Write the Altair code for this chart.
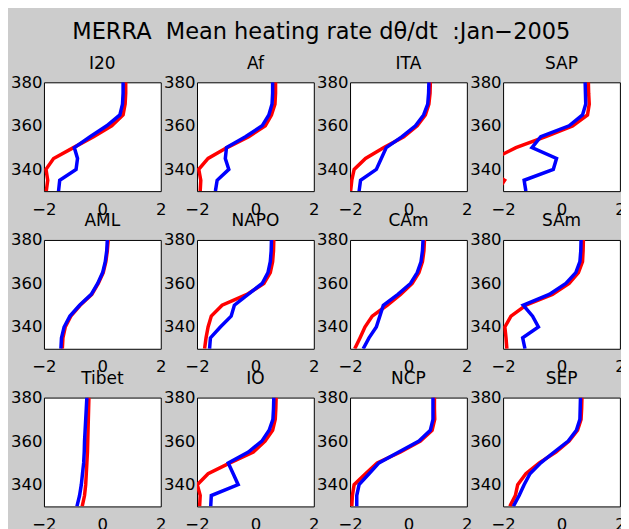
import altair as alt
import pandas as pd

theta = [330, 335, 340, 345, 350, 355, 360, 365, 370, 375, 380]
regions = ["I20", "Af", "ITA", "SAP", "AML", "NAPO", "CAm", "SAm",
           "Tibet", "IO", "NCP", "SEP"]

red = {
    "I20":   [-1.92, -1.87, -1.93, -1.67, -0.99, -0.30, 0.32, 0.71, 0.78, 0.80, 0.80],
    "Af":    [-1.89, -1.87, -1.94, -1.62, -0.97, -0.23, 0.34, 0.55, 0.67, 0.69, 0.69],
    "ITA":   [-1.98, -1.94, -1.86, -1.47, -0.84, -0.16, 0.30, 0.58, 0.70, 0.74, 0.75],
    "SAP":   [-2.20, -1.95, -2.60, -2.30, -1.56, -0.54, 0.38, 0.89, 0.95, 0.93, 0.92],
    "AML":   [-1.37, -1.35, -1.27, -1.08, -0.76, -0.36, -0.14, 0.03, 0.12, 0.17, 0.20],
    "NAPO":  [-1.74, -1.69, -1.62, -1.51, -1.14, -0.29, 0.29, 0.51, 0.59, 0.62, 0.63],
    "CAm":   [-1.84, -1.66, -1.49, -1.24, -0.73, -0.27, 0.13, 0.36, 0.48, 0.53, 0.55],
    "SAm":   [-1.87, -1.90, -1.94, -1.73, -1.22, -0.31, 0.26, 0.58, 0.72, 0.74, 0.75],
    "Tibet": [-0.69, -0.61, -0.57, -0.55, -0.53, -0.51, -0.50, -0.49, -0.48, -0.47, -0.46],
    "IO":    [-1.91, -1.89, -1.99, -1.62, -0.87, -0.07, 0.33, 0.59, 0.68, 0.70, 0.71],
    "NCP":   [-1.94, -1.92, -1.86, -1.47, -1.07, -0.27, 0.41, 0.81, 0.90, 0.89, 0.89],
    "SEP":   [-1.77, -1.58, -1.50, -1.22, -0.76, -0.19, 0.26, 0.55, 0.67, 0.69, 0.70],
}
blue = {
    "I20":   [-1.50, -1.46, -0.90, -0.85, -0.96, -0.42, 0.15, 0.60, 0.69, 0.71, 0.71],
    "Af":    [-1.37, -1.31, -0.91, -1.03, -0.99, -0.34, 0.23, 0.46, 0.57, 0.59, 0.59],
    "ITA":   [-1.69, -1.64, -1.10, -0.93, -0.76, -0.22, 0.24, 0.52, 0.66, 0.69, 0.70],
    "SAP":   [-1.22, -1.28, -0.28, -0.17, -1.01, -0.71, 0.26, 0.72, 0.83, 0.82, 0.81],
    "AML":   [-1.42, -1.40, -1.31, -1.11, -0.78, -0.38, -0.16, 0.01, 0.10, 0.15, 0.17],
    "NAPO":  [-1.57, -1.54, -1.20, -0.83, -0.72, -0.25, 0.23, 0.43, 0.51, 0.54, 0.55],
    "CAm":   [-1.55, -1.35, -1.10, -0.98, -0.86, -0.36, 0.07, 0.30, 0.43, 0.48, 0.50],
    "SAm":   [-1.25, -1.33, -0.79, -0.99, -1.31, -0.42, 0.15, 0.49, 0.63, 0.66, 0.67],
    "Tibet": [-0.87, -0.78, -0.72, -0.68, -0.64, -0.62, -0.61, -0.59, -0.57, -0.55, -0.53],
    "IO":    [-1.53, -1.51, -0.59, -0.76, -0.93, -0.24, 0.22, 0.47, 0.60, 0.62, 0.63],
    "NCP":   [-1.77, -1.77, -1.69, -1.35, -1.01, -0.33, 0.36, 0.75, 0.84, 0.84, 0.84],
    "SEP":   [-1.65, -1.45, -1.28, -1.08, -0.71, -0.25, 0.23, 0.51, 0.63, 0.64, 0.65],
}

x_ticks = [-2, 0, 2]
y_ticks = [340, 360, 380]
FONT = "DejaVu Sans"


def panel(name):
    df_r = pd.DataFrame({"theta": theta, "value": red[name]})
    df_b = pd.DataFrame({"theta": theta, "value": blue[name]})
    x = alt.X("value:Q", scale=alt.Scale(domain=[-2, 2], nice=False, zero=False),
              axis=alt.Axis(values=x_ticks, title=None))
    y = alt.Y("theta:Q", scale=alt.Scale(domain=[330, 380], nice=False, zero=False),
              axis=alt.Axis(values=y_ticks, title=None))
    l_r = alt.Chart(df_r).mark_line(color="#ff0000", strokeWidth=3.5, clip=True).encode(
        x=x, y=y, order="theta:Q")
    l_b = alt.Chart(df_b).mark_line(color="#0000ff", strokeWidth=3.5, clip=True).encode(
        x=x, y=y, order="theta:Q")
    return alt.layer(l_r, l_b).properties(
        width=117, height=109,
        title=alt.TitleParams(name, fontSize=17, offset=1.5, anchor="middle",
                              font=FONT, fontWeight="normal", color="black"),
    )


chart = alt.ConcatChart(
    concat=[panel(r) for r in regions],
    columns=4,
    spacing={"row": 48.9, "column": 36.3},
    bounds="flush",
).properties(
    title=alt.TitleParams("MERRA\u00a0 Mean heating rate d\u03b8/dt\u00a0 :Jan\u22122005",
                          fontSize=22.5, anchor="middle", offset=11, dx=3.5,
                          font=FONT, fontWeight="normal", color="black"),
    background="#cccccc",
    padding={"left": 2, "top": 12, "right": -5, "bottom": 0},
).configure_view(
    fill="white", stroke="black", strokeWidth=1,
).configure_axis(
    domain=False, grid=False, ticks=False,
    labelFont=FONT, labelFontSize=16.5, labelColor="black",
    labelFlush=False, labelOverlap=False, labelBound=False,
).configure_axisX(
    labelPadding=10,
).configure_axisY(
    labelPadding=2,
)

chart.save("out.html", embed_options={"renderer": "svg", "actions": False})
